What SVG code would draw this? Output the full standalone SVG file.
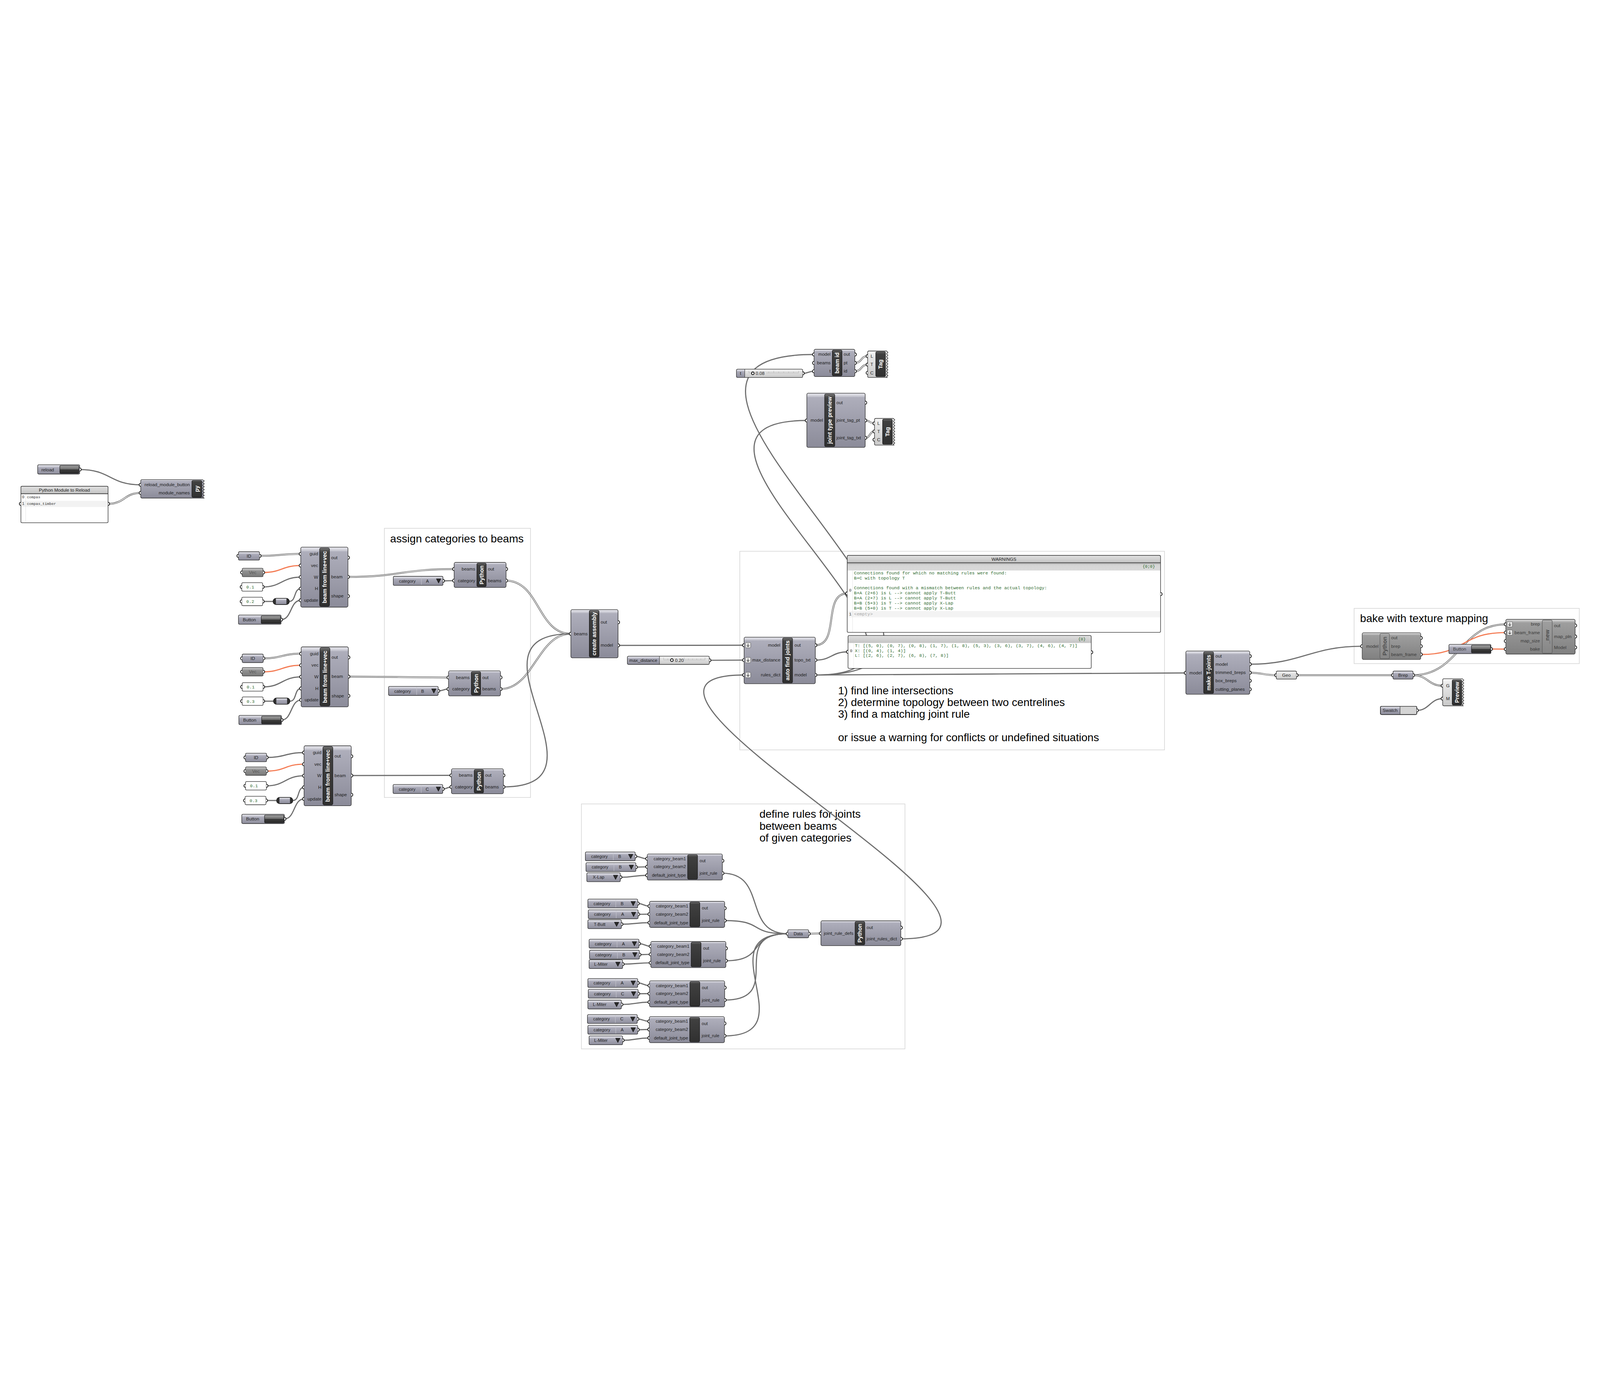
<svg xmlns="http://www.w3.org/2000/svg" width="7730" height="3580" viewBox="0 0 7730 3580">
<style>
svg{width:100vw;height:100vh}
.cb{fill:url(#gB);stroke:#2a2a2a;stroke-width:2.5}
.prm{fill:url(#gP);stroke:#2a2a2a;stroke-width:2.5}
.lt{fill:url(#gL);stroke:#2a2a2a;stroke-width:2.5}
.cg{fill:url(#gG);stroke:#3a3a3a;stroke-width:2.5}
.vec{fill:url(#gV);stroke:#3a3a3a;stroke-width:2.5}
.bar{fill:url(#gK);stroke:#111;stroke-width:2}
.barg{fill:url(#gGb);stroke:#555;stroke-width:2}
.btn{fill:url(#gBt);stroke:#111;stroke-width:2}
.val{fill:#fff;stroke:#2a2a2a;stroke-width:2.5}
.pnone{fill:none;stroke:#2a2a2a;stroke-width:2.5}
.lbl{font-family:"Liberation Sans",Arial,sans-serif;font-size:22px;fill:#1c1c1c}
.lbs{font-family:"Liberation Sans",Arial,sans-serif;font-size:21px;fill:#1c1c1c}
.dim{fill:#3a3a3a}
.bt{font-family:"Liberation Sans",Arial,sans-serif;font-size:27px;font-weight:bold;fill:#fff;text-anchor:middle}
.btg{fill:#4b4b4b}
.ttl{font-family:"Liberation Sans",Arial,sans-serif;font-size:53px;fill:#000}
.mono{font-family:"Liberation Mono","Courier New",monospace;font-size:21.6px;fill:#2f6b2f;white-space:pre}
.num{font-family:"Liberation Mono","Courier New",monospace;font-size:21px;fill:#2f6b2f}
.idx{font-family:"Liberation Mono","Courier New",monospace;font-size:20px;fill:#444}
.m18{font-family:"Liberation Mono","Courier New",monospace;font-size:18px;fill:#333}
.grp{fill:none;stroke:#d6d6d6;stroke-width:3}
.w{fill:none;stroke:#6e6e6e;stroke-width:5.5}
.wd{fill:none;stroke:#6a6a6a;stroke-width:8.5}
.wi{fill:none;stroke:#fff;stroke-width:3}
.wo{fill:none;stroke:#f47b53;stroke-width:5.5}
.c{text-anchor:middle}
.e{text-anchor:end}
.rail{fill:none;stroke:#a8a8a8;stroke-width:1.5}
</style>
<defs>
<linearGradient id="gB" x1="0" y1="0" x2="0" y2="1"><stop offset="0" stop-color="#e6e6ec"/><stop offset="0.05" stop-color="#cfcfd8"/><stop offset="0.08" stop-color="#aeaebb"/><stop offset="1" stop-color="#8b8b99"/></linearGradient>
<linearGradient id="gP" x1="0" y1="0" x2="0" y2="1"><stop offset="0" stop-color="#e4e4ea"/><stop offset="0.22" stop-color="#c8c8d2"/><stop offset="0.3" stop-color="#ababb9"/><stop offset="1" stop-color="#8e8e9c"/></linearGradient>
<linearGradient id="gK" x1="0" y1="0" x2="0" y2="1"><stop offset="0" stop-color="#7c7c7c"/><stop offset="0.04" stop-color="#555"/><stop offset="0.08" stop-color="#404040"/><stop offset="1" stop-color="#303030"/></linearGradient>
<linearGradient id="gG" x1="0" y1="0" x2="0" y2="1"><stop offset="0" stop-color="#e0e0e0"/><stop offset="0.06" stop-color="#bababa"/><stop offset="0.1" stop-color="#9e9e9e"/><stop offset="1" stop-color="#808080"/></linearGradient>
<linearGradient id="gGb" x1="0" y1="0" x2="0" y2="1"><stop offset="0" stop-color="#c4c4c4"/><stop offset="0.06" stop-color="#9e9e9e"/><stop offset="1" stop-color="#868686"/></linearGradient>
<linearGradient id="gL" x1="0" y1="0" x2="0" y2="1"><stop offset="0" stop-color="#f7f7f7"/><stop offset="0.2" stop-color="#e8e8e8"/><stop offset="1" stop-color="#c9c9c9"/></linearGradient>
<linearGradient id="gV" x1="0" y1="0" x2="0" y2="1"><stop offset="0" stop-color="#c6c6c6"/><stop offset="0.25" stop-color="#a9a9a9"/><stop offset="0.3" stop-color="#939393"/><stop offset="1" stop-color="#7a7a7a"/></linearGradient>
<linearGradient id="gBt" x1="0" y1="0" x2="0" y2="1"><stop offset="0" stop-color="#a4a4a4"/><stop offset="0.47" stop-color="#6c6c6c"/><stop offset="0.5" stop-color="#3c3c3c"/><stop offset="1" stop-color="#2a2a2a"/></linearGradient>
<linearGradient id="gH" x1="0" y1="0" x2="0" y2="1"><stop offset="0" stop-color="#e0e0e0"/><stop offset="1" stop-color="#c4c4c4"/></linearGradient>
<linearGradient id="gS" x1="0" y1="0" x2="0" y2="1"><stop offset="0" stop-color="#7a7a7a"/><stop offset="0.15" stop-color="#c4c4c4"/><stop offset="0.35" stop-color="#d6d6d6"/><stop offset="1" stop-color="#d9d9d9"/></linearGradient>
<path id="pi" d="M0,-7.5A7.5,7.5 0 0 0 0,7.5" fill="#fff" stroke="#111" stroke-width="3.5"/>
<path id="po" d="M0,-7.5A7.5,7.5 0 0 1 0,7.5" fill="#fff" stroke="#111" stroke-width="3.5"/>
<path id="tri" d="M-11,-10H11L0,11Z" fill="#2a2a2a" stroke="#000" stroke-width="1.5"/>
<g id="arr"><rect x="0" y="-13" width="26" height="26" rx="4" fill="#e6e6e6" stroke="#444" stroke-width="1.5"/><path d="M13,-8V7M7,1L13,7L19,1" fill="none" stroke="#555" stroke-width="3"/></g>
</defs>
<rect width="7730" height="3580" fill="#fff"/>

<g id="groups">
<g id="g-assign"><rect class="grp" x="1857" y="965" width="706" height="1301"/><text class="ttl" x="1885" y="1034">assign categories to beams</text></g>
<g id="g-afj"><rect class="grp" x="3574" y="1076" width="2052" height="960"/>
<text class="ttl" x="4049" y="1768">1) find line intersections</text>
<text class="ttl" x="4049" y="1824">2) determine topology between two centrelines</text>
<text class="ttl" x="4049" y="1880">3) find a matching joint rule</text>
<text class="ttl" x="4049" y="1994">or issue a warning for conflicts or undefined situations</text></g>
<g id="g-rules"><rect class="grp" x="2809" y="2297" width="1563" height="1184"/>
<text class="ttl" x="3669" y="2364">define rules for joints</text>
<text class="ttl" x="3669" y="2422">between beams</text>
<text class="ttl" x="3669" y="2478">of given categories</text></g>
<g id="g-bake"><rect class="grp" x="6542" y="1352" width="1088" height="267"/><text class="ttl" x="6571" y="1418">bake with texture mapping</text></g>
</g>

<g id="connectors">
<path class="w" d="M385,681 C535,681 530,755 680,755"/>
<path class="wd" d="M522,847 C602,847 600,794 680,794"/><path class="wi" d="M522,847 C602,847 600,794 680,794"/>
<path class="wd" d="M1254,1098.5 C1354,1098.5 1353,1089 1453,1089"/><path class="wi" d="M1254,1098.5 C1354,1098.5 1353,1089 1453,1089"/>
<path class="wo" d="M1271,1178.5 C1362,1178.5 1362,1145 1453,1145"/>
<path class="w" d="M1269,1248.5 C1361,1248.5 1361,1201 1453,1201"/>
<path class="w" d="M1269,1318.5 L1319,1318.5"/>
<path class="w" d="M1397,1318.5 C1432,1318.5 1418,1257 1453,1257"/>
<path class="w" d="M1358,1406.5 C1410,1406.5 1401,1313 1453,1313"/>
<path class="wd" d="M1272,1593.5 C1363,1593.5 1364,1571 1455,1571"/><path class="wi" d="M1272,1593.5 C1363,1593.5 1364,1571 1455,1571"/>
<path class="wo" d="M1271,1658.5 C1363,1658.5 1363,1627 1455,1627"/>
<path class="w" d="M1271,1731.5 C1363,1731.5 1363,1683 1455,1683"/>
<path class="w" d="M1271,1800.5 L1321,1800.5"/>
<path class="w" d="M1401,1800.5 C1435,1800.5 1421,1739 1455,1739"/>
<path class="w" d="M1360,1891.5 C1412,1891.5 1403,1795 1455,1795"/>
<path class="w" d="M1288,2072.5 C1378,2072.5 1379,2049 1469,2049"/>
<path class="wo" d="M1287,2138.5 C1378,2138.5 1378,2105 1469,2105"/>
<path class="w" d="M1287,2209.5 C1378,2209.5 1378,2161 1469,2161"/>
<path class="w" d="M1285,2280.5 L1336,2280.5"/>
<path class="w" d="M1415,2280.5 C1449,2280.5 1435,2217 1469,2217"/>
<path class="w" d="M1374,2369.5 C1426,2369.5 1417,2273 1469,2273"/>
<path class="wd" d="M1681,1200 C1931,1200 1944,1162 2194,1162"/><path class="wi" d="M1681,1200 C1931,1200 1944,1162 2194,1162"/>
<path class="wd" d="M1683,1682 C1883,1682 1967,1686 2167,1686"/><path class="wi" d="M1683,1682 C1883,1682 1967,1686 2167,1686"/>
<path class="w" d="M1697,2160 C1897,2160 1981,2159 2181,2159"/>
<path class="w" d="M2140,1219 L2194,1218"/>
<path class="w" d="M2117,1751 C2142,1751 2142,1742 2167,1742"/>
<path class="w" d="M2139,2225 C2160,2225 2160,2215 2181,2215"/>
<path class="wd" d="M2445,1218 C2605,1218 2598,1475 2758,1475"/><path class="wi" d="M2445,1218 C2605,1218 2598,1475 2758,1475"/>
<path class="wd" d="M2418,1742 C2578,1742 2598,1475 2758,1475"/><path class="wi" d="M2418,1742 C2578,1742 2598,1475 2758,1475"/>
<path class="w" d="M2432,2215 C2992,2215 2198,1475 2758,1475"/>
<path class="w" d="M2986,1531 L3595,1530"/>
<path class="w" d="M3427,1603 L3595,1602"/>
<path class="w" d="M4352,2949 C5252,2949 2695,1674 3595,1674"/>
<path class="wd" d="M3939,1530 C4059,1530 3973,1280 4093,1280"/><path class="wi" d="M3939,1530 C4059,1530 3973,1280 4093,1280"/>
<path class="w" d="M3939,1602 C4019,1602 4017,1562 4097,1562"/>
<path class="w" d="M3939,1674 C4839,1674 4829,1664 5729,1664"/>
<path class="w" d="M3939,1674 C5089,1674 2783,125 3933,125"/>
<path class="w" d="M3939,1674 C4839,1674 2998,444 3898,444"/>
<path class="w" d="M3878,216 C3908,216 3903,206 3933,206"/>
<path class="wd" d="M4130,166 C4165,166 4157,133 4192,133"/><path class="wi" d="M4130,166 C4165,166 4157,133 4192,133"/>
<path class="wd" d="M4130,206 C4165,206 4157,174 4192,174"/><path class="wi" d="M4130,206 C4165,206 4157,174 4192,174"/>
<path class="wd" d="M4180,444 C4205,444 4200,458 4225,458"/><path class="wi" d="M4180,444 C4205,444 4200,458 4225,458"/>
<path class="wd" d="M4180,528 C4205,528 4200,497 4225,497"/><path class="wi" d="M4180,528 C4205,528 4200,497 4225,497"/>
<path class="w" d="M3069,2550.5 C3098,2550.5 3098,2562 3127,2562"/>
<path class="w" d="M3072,2602.5 C3100,2602.5 3099,2601 3127,2601"/>
<path class="w" d="M2997,2651.5 C3062,2651.5 3062,2642 3127,2642"/>
<path class="w" d="M3081,2778.5 C3110,2778.5 3109,2791 3138,2791"/>
<path class="w" d="M3083,2830.5 L3138,2830"/>
<path class="w" d="M3002,2878.5 C3070,2878.5 3070,2871 3138,2871"/>
<path class="w" d="M3087,2972.5 C3116,2972.5 3115,2985 3144,2985"/>
<path class="w" d="M3089,3025.5 L3144,3024"/>
<path class="w" d="M3008,3071.5 C3076,3071.5 3076,3065 3144,3065"/>
<path class="w" d="M3081,3162.5 C3110,3162.5 3109,3175 3138,3175"/>
<path class="w" d="M3083,3214.5 L3138,3214"/>
<path class="w" d="M3002,3266.5 C3070,3266.5 3070,3255 3138,3255"/>
<path class="w" d="M3079,3336.5 C3108,3336.5 3108,3348 3137,3348"/>
<path class="w" d="M3081,3388.5 L3137,3387"/>
<path class="w" d="M3008,3439.5 C3073,3439.5 3072,3428 3137,3428"/>
<path class="w" d="M3490,2632 C3710,2632 3586,2924.5 3806,2924.5"/>
<path class="w" d="M3501,2861 C3701,2861 3606,2924.5 3806,2924.5"/>
<path class="w" d="M3507,3055 C3707,3055 3606,2924.5 3806,2924.5"/>
<path class="w" d="M3501,3245 C3801,3245 3506,2924.5 3806,2924.5"/>
<path class="w" d="M3500,3418 C3900,3418 3406,2924.5 3806,2924.5"/>
<path class="wd" d="M3907,2924.5 L3966,2923"/><path class="wi" d="M3907,2924.5 L3966,2923"/>
<path class="w" d="M6038,1622 C6288,1622 6331,1535 6581,1535"/>
<path class="wd" d="M6038,1663 C6098,1663 6106,1675 6166,1675"/><path class="wi" d="M6038,1663 C6098,1663 6106,1675 6166,1675"/>
<path class="wd" d="M6264,1675 L6730,1675"/><path class="wi" d="M6264,1675 L6730,1675"/>
<path class="wd" d="M6827,1675 C7047,1675 7055,1429 7275,1429"/><path class="wi" d="M6827,1675 C7047,1675 7055,1429 7275,1429"/>
<path class="wd" d="M6827,1675 C6897,1675 6900,1726 6970,1726"/><path class="wi" d="M6827,1675 C6897,1675 6900,1726 6970,1726"/>
<path class="wo" d="M6864,1575 C7084,1575 7055,1469 7275,1469"/>
<path class="wo" d="M7203,1548.5 L7275,1549"/>
<path class="w" d="M6845,1845 C6905,1845 6910,1788 6970,1788"/>
</g>

<g id="n-reload">
<rect x="182" y="658" width="203" height="45" rx="6" class="prm"/>
<text class="lbl" x="200" y="689">reload</text>
<rect x="289" y="662" width="92" height="37" rx="4" class="btn"/>
<use href="#po" x="385" y="681"/>
</g>

<g id="n-modpanel">
<rect x="101" y="762" width="421" height="176" rx="5" fill="#fff"/>
<path d="M101,798 V767 Q101,762 106,762 H517 Q522,762 522,767 V798 Z" fill="url(#gH)"/>
<rect x="103" y="832" width="417" height="30" fill="#f2f2f2"/>
<line x1="124" y1="800" x2="124" y2="936" stroke="#dcdcdc" stroke-width="1.5"/>
<line x1="101" y1="798" x2="522" y2="798" stroke="#333" stroke-width="3"/>
<text class="lbl c" x="311" y="787">Python Module to Reload</text>
<text class="idx" x="106" y="820">0</text><text class="m18" x="130" y="820">compas</text>
<text class="idx" x="106" y="853">1</text><text class="m18" x="130" y="853">compas_timber</text>
<rect x="101" y="762" width="421" height="176" rx="5" class="pnone"/>
<use href="#pi" x="101" y="847"/><use href="#po" x="522" y="847"/>
</g>

<g id="n-py">
<path class="cb" d="M686,730 H978 L987,736 L979,743 L987,750 L979,757 L987,764 L979,771 L987,778 L979,785 L987,792 L979,799 L987,806 L979,813 L986,819 H686 Q680,819 680,813 V736 Q680,730 686,730 Z"/>
<rect x="927" y="734" width="48" height="81" rx="6" class="bar"/>
<text class="bt" transform="translate(960,774) rotate(-90)">py</text>
<text class="lbl e" x="917" y="762">reload_module_button</text>
<text class="lbl e" x="917" y="801">module_names</text>
<use href="#pi" x="680" y="755"/><use href="#pi" x="680" y="794"/>
</g>

<g id="n-id1"><rect x="1152" y="1078" width="102" height="41" rx="6" class="prm"/><text class="lbl c" x="1203" y="1106">ID</text><use href="#pi" x="1152" y="1098.5"/><use href="#po" x="1254" y="1098.5"/></g>
<g id="n-vec1"><rect x="1170" y="1158" width="101" height="41" rx="6" class="vec"/><text class="lbl c" x="1220.5" y="1186" style="fill:#555">Vec</text><use href="#pi" x="1170" y="1178.5"/><use href="#po" x="1271" y="1178.5"/></g>
<g id="n-w1"><rect x="1168" y="1228" width="101" height="41" rx="6" class="val"/><text class="num" x="1190" y="1256">0.1</text><use href="#pi" x="1168" y="1248.5"/><use href="#po" x="1269" y="1248.5"/></g>
<g id="n-h1"><rect x="1168" y="1298" width="101" height="41" rx="6" class="val"/><text class="num" x="1190" y="1326">0.2</text><use href="#pi" x="1168" y="1318.5"/><use href="#po" x="1269" y="1318.5"/></g>
<g id="n-relay1"><rect x="1319" y="1303" width="79" height="31" rx="15" fill="#2e2e2e" stroke="#111" stroke-width="2"/><rect x="1333" y="1305" width="51" height="27" fill="url(#gP)"/></g>
<g id="n-btn1"><rect x="1152" y="1384" width="206" height="45" rx="6" class="prm"/><text class="lbl" x="1173" y="1414">Button</text><rect x="1262" y="1388" width="93" height="37" rx="4" class="btn"/><use href="#po" x="1358" y="1406.5"/></g>

<g id="n-beam1">
<rect x="1453" y="1056" width="228" height="290" rx="7" class="cb"/>
<rect x="1544" y="1060" width="48" height="282" rx="7" class="bar"/>
<text class="bt" transform="translate(1577.5,1201) rotate(-90)">beam from line+vec</text>
<text class="lbl e" x="1537" y="1096">guid</text><text class="lbl e" x="1537" y="1152">vec</text><text class="lbl e" x="1537" y="1208">W</text><text class="lbl e" x="1537" y="1264">H</text><text class="lbl e" x="1537" y="1320">update</text>
<text class="lbl" x="1600" y="1114">out</text><text class="lbl" x="1600" y="1207">beam</text><text class="lbl" x="1600" y="1300">shape</text>
<use href="#pi" x="1453" y="1089"/><use href="#pi" x="1453" y="1145"/><use href="#pi" x="1453" y="1201"/><use href="#pi" x="1453" y="1257"/><use href="#pi" x="1453" y="1313"/>
<use href="#po" x="1681" y="1107"/><use href="#po" x="1681" y="1200"/><use href="#po" x="1681" y="1293"/>
</g>

<g id="n-id2"><rect x="1170" y="1573" width="102" height="41" rx="6" class="prm"/><text class="lbl c" x="1221" y="1601">ID</text><use href="#pi" x="1170" y="1593.5"/><use href="#po" x="1272" y="1593.5"/></g>
<g id="n-vec2"><rect x="1170" y="1638" width="101" height="41" rx="6" class="vec"/><text class="lbl c" x="1220.5" y="1666" style="fill:#555">Vec</text><use href="#pi" x="1170" y="1658.5"/><use href="#po" x="1271" y="1658.5"/></g>
<g id="n-w2"><rect x="1170" y="1711" width="101" height="41" rx="6" class="val"/><text class="num" x="1192" y="1739">0.1</text><use href="#pi" x="1170" y="1731.5"/><use href="#po" x="1271" y="1731.5"/></g>
<g id="n-h2"><rect x="1170" y="1780" width="101" height="41" rx="6" class="val"/><text class="num" x="1192" y="1808">0.3</text><use href="#pi" x="1170" y="1800.5"/><use href="#po" x="1271" y="1800.5"/></g>
<g id="n-relay2"><rect x="1321" y="1785" width="80" height="31" rx="15" fill="#2e2e2e" stroke="#111" stroke-width="2"/><rect x="1335" y="1787" width="52" height="27" fill="url(#gP)"/></g>
<g id="n-btn2"><rect x="1154" y="1869" width="206" height="45" rx="6" class="prm"/><text class="lbl" x="1175" y="1899">Button</text><rect x="1264" y="1873" width="93" height="37" rx="4" class="btn"/><use href="#po" x="1360" y="1891.5"/></g>

<g id="n-beam2">
<rect x="1455" y="1538" width="228" height="290" rx="7" class="cb"/>
<rect x="1546" y="1542" width="48" height="282" rx="7" class="bar"/>
<text class="bt" transform="translate(1579.5,1683) rotate(-90)">beam from line+vec</text>
<text class="lbl e" x="1539" y="1578">guid</text><text class="lbl e" x="1539" y="1634">vec</text><text class="lbl e" x="1539" y="1690">W</text><text class="lbl e" x="1539" y="1746">H</text><text class="lbl e" x="1539" y="1802">update</text>
<text class="lbl" x="1602" y="1596">out</text><text class="lbl" x="1602" y="1689">beam</text><text class="lbl" x="1602" y="1782">shape</text>
<use href="#pi" x="1455" y="1571"/><use href="#pi" x="1455" y="1627"/><use href="#pi" x="1455" y="1683"/><use href="#pi" x="1455" y="1739"/><use href="#pi" x="1455" y="1795"/>
<use href="#po" x="1683" y="1589"/><use href="#po" x="1683" y="1682"/><use href="#po" x="1683" y="1775"/>
</g>

<g id="n-id3"><rect x="1186" y="2052" width="102" height="41" rx="6" class="prm"/><text class="lbl c" x="1237" y="2080">ID</text><use href="#pi" x="1186" y="2072.5"/><use href="#po" x="1288" y="2072.5"/></g>
<g id="n-vec3"><rect x="1186" y="2118" width="101" height="41" rx="6" class="vec"/><text class="lbl c" x="1236.5" y="2146" style="fill:#555">Vec</text><use href="#pi" x="1186" y="2138.5"/><use href="#po" x="1287" y="2138.5"/></g>
<g id="n-w3"><rect x="1186" y="2189" width="101" height="41" rx="6" class="val"/><text class="num" x="1208" y="2217">0.1</text><use href="#pi" x="1186" y="2209.5"/><use href="#po" x="1287" y="2209.5"/></g>
<g id="n-h3"><rect x="1184" y="2260" width="101" height="41" rx="6" class="val"/><text class="num" x="1206" y="2288">0.3</text><use href="#pi" x="1184" y="2280.5"/><use href="#po" x="1285" y="2280.5"/></g>
<g id="n-relay3"><rect x="1336" y="2265" width="79" height="31" rx="15" fill="#2e2e2e" stroke="#111" stroke-width="2"/><rect x="1350" y="2267" width="51" height="27" fill="url(#gP)"/></g>
<g id="n-btn3"><rect x="1168" y="2347" width="206" height="45" rx="6" class="prm"/><text class="lbl" x="1189" y="2377">Button</text><rect x="1278" y="2351" width="93" height="37" rx="4" class="btn"/><use href="#po" x="1374" y="2369.5"/></g>

<g id="n-beam3">
<rect x="1469" y="2016" width="228" height="290" rx="7" class="cb"/>
<rect x="1560" y="2020" width="48" height="282" rx="7" class="bar"/>
<text class="bt" transform="translate(1593.5,2161) rotate(-90)">beam from line+vec</text>
<text class="lbl e" x="1553" y="2056">guid</text><text class="lbl e" x="1553" y="2112">vec</text><text class="lbl e" x="1553" y="2168">W</text><text class="lbl e" x="1553" y="2224">H</text><text class="lbl e" x="1553" y="2280">update</text>
<text class="lbl" x="1616" y="2074">out</text><text class="lbl" x="1616" y="2167">beam</text><text class="lbl" x="1616" y="2260">shape</text>
<use href="#pi" x="1469" y="2049"/><use href="#pi" x="1469" y="2105"/><use href="#pi" x="1469" y="2161"/><use href="#pi" x="1469" y="2217"/><use href="#pi" x="1469" y="2273"/>
<use href="#po" x="1697" y="2067"/><use href="#po" x="1697" y="2160"/><use href="#po" x="1697" y="2253"/>
</g>

<g id="n-catA">
<rect x="1900" y="1197" width="240" height="44" rx="6" class="prm"/>
<line x1="2036" y1="1200" x2="2036" y2="1238" stroke="#c6c6ce" stroke-width="2"/>
<text class="lbs c" x="1968" y="1227">category</text><text class="lbs c" x="2065" y="1227">A</text>
<use href="#tri" x="2119" y="1219"/><use href="#po" x="2140" y="1219"/>
</g>
<g id="n-pyA">
<rect x="2194" y="1130" width="251" height="121" rx="7" class="cb"/>
<rect x="2304" y="1134" width="45" height="113" rx="6" class="bar"/>
<text class="bt" transform="translate(2336,1190.5) rotate(-90)">Python</text>
<text class="lbl e" x="2296" y="1169">beams</text><text class="lbl e" x="2296" y="1225">category</text>
<text class="lbl" x="2357" y="1169">out</text><text class="lbl" x="2357" y="1225">beams</text>
<use href="#pi" x="2194" y="1162"/><use href="#pi" x="2194" y="1218"/><use href="#po" x="2445" y="1162"/><use href="#po" x="2445" y="1218"/>
</g>

<g id="n-catB">
<rect x="1877" y="1729" width="240" height="44" rx="6" class="prm"/>
<line x1="2013" y1="1732" x2="2013" y2="1770" stroke="#c6c6ce" stroke-width="2"/>
<text class="lbs c" x="1945" y="1759">category</text><text class="lbs c" x="2042" y="1759">B</text>
<use href="#tri" x="2096" y="1751"/><use href="#po" x="2117" y="1751"/>
</g>
<g id="n-pyB">
<rect x="2167" y="1654" width="251" height="121" rx="7" class="cb"/>
<rect x="2277" y="1658" width="45" height="113" rx="6" class="bar"/>
<text class="bt" transform="translate(2309,1714.5) rotate(-90)">Python</text>
<text class="lbl e" x="2269" y="1693">beams</text><text class="lbl e" x="2269" y="1749">category</text>
<text class="lbl" x="2330" y="1693">out</text><text class="lbl" x="2330" y="1749">beams</text>
<use href="#pi" x="2167" y="1686"/><use href="#pi" x="2167" y="1742"/><use href="#po" x="2418" y="1686"/><use href="#po" x="2418" y="1742"/>
</g>

<g id="n-catC">
<rect x="1899" y="2203" width="240" height="44" rx="6" class="prm"/>
<line x1="2035" y1="2206" x2="2035" y2="2244" stroke="#c6c6ce" stroke-width="2"/>
<text class="lbs c" x="1967" y="2233">category</text><text class="lbs c" x="2064" y="2233">C</text>
<use href="#tri" x="2118" y="2225"/><use href="#po" x="2139" y="2225"/>
</g>
<g id="n-pyC">
<rect x="2181" y="2127" width="251" height="121" rx="7" class="cb"/>
<rect x="2291" y="2131" width="45" height="113" rx="6" class="bar"/>
<text class="bt" transform="translate(2323,2187.5) rotate(-90)">Python</text>
<text class="lbl e" x="2283" y="2166">beams</text><text class="lbl e" x="2283" y="2222">category</text>
<text class="lbl" x="2344" y="2166">out</text><text class="lbl" x="2344" y="2222">beams</text>
<use href="#pi" x="2181" y="2159"/><use href="#pi" x="2181" y="2215"/><use href="#po" x="2432" y="2159"/><use href="#po" x="2432" y="2215"/>
</g>

<g id="n-create">
<rect x="2758" y="1358" width="228" height="233" rx="7" class="cb"/>
<rect x="2847" y="1362" width="47" height="225" rx="6" class="bar"/>
<text class="bt" transform="translate(2880,1474.5) rotate(-90)">create assembly</text>
<text class="lbl e" x="2839" y="1482">beams</text>
<text class="lbl" x="2902" y="1426">out</text><text class="lbl" x="2902" y="1538">model</text>
<use href="#pi" x="2758" y="1475"/><use href="#po" x="2986" y="1419"/><use href="#po" x="2986" y="1531"/>
</g>

<g id="n-maxdist">
<rect x="3031" y="1583" width="396" height="40" rx="6" fill="url(#gL)"/>
<path d="M3037,1583 H3186 V1623 H3037 Q3031,1623 3031,1617 V1589 Q3031,1583 3037,1583 Z" fill="url(#gP)"/>
<line x1="3186" y1="1583" x2="3186" y2="1623" stroke="#333" stroke-width="2"/>
<path class="rail" d="M3206,1601 H3240 M3306,1601 H3406 M3206,1590 V1601 M3226,1595 V1601 M3306,1590 V1601 M3326,1595 V1601 M3346,1595 V1601 M3366,1595 V1601 M3386,1595 V1601 M3406,1590 V1601"/>
<rect x="3031" y="1583" width="396" height="40" rx="6" class="pnone"/>
<text class="lbl c" x="3108" y="1611">max_distance</text>
<circle cx="3246" cy="1602" r="6.5" fill="#fff" stroke="#000" stroke-width="3.5"/>
<text class="lbl" x="3261" y="1611">0.20</text>
<use href="#po" x="3427" y="1603"/>
</g>

<g id="n-tslider">
<rect x="3558" y="196" width="320" height="40" rx="6" fill="url(#gL)"/>
<path d="M3564,196 H3598 V236 H3564 Q3558,236 3558,230 V202 Q3558,196 3564,196 Z" fill="url(#gP)"/>
<line x1="3598" y1="196" x2="3598" y2="236" stroke="#333" stroke-width="2"/>
<path class="rail" d="M3617,214 H3626 M3702,214 H3858 M3618,204 V214 M3714,208 V214 M3738,204 V214 M3762,208 V214 M3786,208 V214 M3810,208 V214 M3834,208 V214 M3858,204 V214"/>
<rect x="3558" y="196" width="320" height="40" rx="6" class="pnone"/>
<text class="lbl c" x="3578" y="224">t</text>
<circle cx="3637" cy="216" r="6.5" fill="#fff" stroke="#000" stroke-width="3.5"/>
<text class="lbl" x="3651" y="224">0.08</text>
<use href="#po" x="3878" y="216"/>
</g>

<g id="n-beamid">
<rect x="3933" y="100" width="197" height="132" rx="7" class="cb"/>
<rect x="4021" y="104" width="47" height="124" rx="6" class="bar"/>
<text class="bt" transform="translate(4054,166) rotate(-90)">beam id</text>
<text class="lbl e" x="4013" y="132">model</text><text class="lbl e" x="4013" y="173">beams</text><text class="lbl e" x="4013" y="213">t</text>
<text class="lbl" x="4076" y="132">out</text><text class="lbl" x="4076" y="173">pt</text><text class="lbl" x="4076" y="213">id</text>
<use href="#pi" x="3933" y="125"/><use href="#pi" x="3933" y="166"/><use href="#pi" x="3933" y="206"/>
<use href="#po" x="4130" y="125"/><use href="#po" x="4130" y="166"/><use href="#po" x="4130" y="206"/>
</g>

<g id="n-tag1">
<path class="lt" d="M4198,108 H4283 L4290,115 L4283,122 L4290,129 L4283,136 L4290,143 L4283,150 L4290,157 L4283,164 L4290,171 L4283,178 L4290,185 L4283,192 L4290,199 L4283,206 L4290,213 L4283,220 L4290,227 L4283,234 L4286,236 H4198 Q4192,236 4192,230 V114 Q4192,108 4198,108 Z"/>
<rect x="4231" y="112" width="47" height="120" rx="6" class="bar"/>
<text class="bt" transform="translate(4264,172) rotate(-90)">Tag</text>
<text class="lbl c" x="4212" y="140">L</text><text class="lbl c" x="4212" y="181">T</text><text class="lbl c" x="4212" y="221">C</text>
<use href="#pi" x="4192" y="133"/><use href="#pi" x="4192" y="174"/><use href="#pi" x="4192" y="214"/>
</g>

<g id="n-jtp">
<rect x="3898" y="312" width="282" height="262" rx="7" class="cb"/>
<rect x="3984" y="316" width="49" height="254" rx="6" class="bar"/>
<text class="bt" transform="translate(4018,443) rotate(-90)">joint type preview</text>
<text class="lbl e" x="3976" y="451">model</text>
<text class="lbl" x="4041" y="365">out</text><text class="lbl" x="4041" y="451">joint_tag_pt</text><text class="lbl" x="4041" y="535">joint_tag_txt</text>
<use href="#pi" x="3898" y="444"/><use href="#po" x="4180" y="358"/><use href="#po" x="4180" y="444"/><use href="#po" x="4180" y="528"/>
</g>

<g id="n-tag2">
<path class="lt" d="M4231,434 H4316 L4323,441 L4316,448 L4323,455 L4316,462 L4323,469 L4316,476 L4323,483 L4316,490 L4323,497 L4316,504 L4323,511 L4316,518 L4323,525 L4316,532 L4323,539 L4316,546 L4323,553 L4316,560 L4319,563 H4231 Q4225,563 4225,557 V440 Q4225,434 4231,434 Z"/>
<rect x="4264" y="438" width="47" height="121" rx="6" class="bar"/>
<text class="bt" transform="translate(4297,498.5) rotate(-90)">Tag</text>
<text class="lbl c" x="4245" y="465">L</text><text class="lbl c" x="4245" y="504">T</text><text class="lbl c" x="4245" y="544">C</text>
<use href="#pi" x="4225" y="458"/><use href="#pi" x="4225" y="497"/><use href="#pi" x="4225" y="537"/>
</g>

<g id="n-afj">
<rect x="3595" y="1491" width="344" height="225" rx="7" class="cb"/>
<rect x="3781" y="1495" width="48" height="217" rx="6" class="bar"/>
<text class="bt" transform="translate(3814.5,1603.5) rotate(-90)">auto find joints</text>
<use href="#arr" x="3601" y="1530"/><use href="#arr" x="3601" y="1602"/><use href="#arr" x="3601" y="1674"/>
<text class="lbl e" x="3770" y="1537">model</text><text class="lbl e" x="3770" y="1609">max_distance</text><text class="lbl e" x="3770" y="1681">rules_dict</text>
<text class="lbl" x="3838" y="1537">out</text><text class="lbl" x="3838" y="1609">topo_txt</text><text class="lbl" x="3838" y="1681">model</text>
<use href="#pi" x="3595" y="1530"/><use href="#pi" x="3595" y="1602"/><use href="#pi" x="3595" y="1674"/>
<use href="#po" x="3939" y="1530"/><use href="#po" x="3939" y="1602"/><use href="#po" x="3939" y="1674"/>
</g>

<g id="n-warnings">
<rect x="4093" y="1096" width="1514" height="372" rx="6" fill="#fff"/>
<path d="M4093,1131 V1102 Q4093,1096 4099,1096 H5601 Q5607,1096 5607,1102 V1131 Z" fill="url(#gH)"/>
<rect x="4094" y="1131" width="1512" height="38" fill="url(#gS)"/>
<line x1="4093" y1="1131" x2="5607" y2="1131" stroke="#333" stroke-width="2.5"/>
<rect x="4094" y="1365" width="1512" height="30" fill="#f3f3f3"/>
<line x1="4119" y1="1169" x2="4119" y2="1466" stroke="#e0e0e0" stroke-width="1.5"/>
<text class="lbl c" x="4850" y="1122">WARNINGS</text>
<text class="idx e" x="5580" y="1156" style="fill:#2f6b2f">{0;0}</text>
<text class="idx" x="4102" y="1271">0</text>
<text class="mono" x="4126" y="1188">Connections found for which no matching rules were found:</text>
<text class="mono" x="4126" y="1212">B+C with topology T</text>
<text class="mono" x="4126" y="1260">Connections found with a mismatch between rules and the actual topology:</text>
<text class="mono" x="4126" y="1284">B+A (2+6) is L --&gt; cannot apply T-Butt</text>
<text class="mono" x="4126" y="1309">B+A (2+7) is L --&gt; cannot apply T-Butt</text>
<text class="mono" x="4126" y="1333">B+B (5+3) is T --&gt; cannot apply X-Lap</text>
<text class="mono" x="4126" y="1357">B+B (5+0) is T --&gt; cannot apply X-Lap</text>
<text class="idx" x="4102" y="1386">1</text>
<text class="mono" x="4126" y="1386" style="fill:#a8a8a8">&lt;empty&gt;</text>
<rect x="4093" y="1096" width="1514" height="372" rx="6" class="pnone"/>
<use href="#pi" x="4093" y="1280"/><use href="#po" x="5607" y="1283"/>
</g>

<g id="n-topo">
<rect x="4097" y="1483" width="1175" height="159" rx="6" fill="#fff"/>
<path d="M4097,1519 V1489 Q4097,1483 4103,1483 H5266 Q5272,1483 5272,1489 V1519 Z" fill="url(#gH)"/>
<line x1="4124" y1="1519" x2="4124" y2="1640" stroke="#e6e6e6" stroke-width="1.5"/>
<text class="idx e" x="5245" y="1506" style="fill:#2f6b2f">{0}</text>
<text class="idx" x="4106" y="1563">0</text>
<text class="mono" x="4130" y="1539">T: [(5, 0), (0, 7), (0, 8), (1, 7), (1, 8), (5, 3), (3, 6), (3, 7), (4, 6), (4, 7)]</text>
<text class="mono" x="4130" y="1563">X: [(0, 4), (1, 4)]</text>
<text class="mono" x="4130" y="1587">L: [(2, 6), (2, 7), (6, 8), (7, 8)]</text>
<rect x="4097" y="1483" width="1175" height="159" rx="6" class="pnone"/>
<use href="#pi" x="4097" y="1562"/><use href="#po" x="5272" y="1564"/>
</g>

<g id="n-r1-c1"><rect x="2828" y="2529" width="241" height="43" rx="6" class="prm"/><line x1="2963" y1="2532" x2="2963" y2="2569" stroke="#c6c6ce" stroke-width="2"/><text class="lbs c" x="2896" y="2558">category</text><text class="lbs c" x="2994" y="2558">B</text><use href="#tri" x="3047" y="2550.5"/><use href="#po" x="3069" y="2550.5"/></g>
<g id="n-r1-c2"><rect x="2831" y="2581" width="241" height="43" rx="6" class="prm"/><line x1="2966" y1="2584" x2="2966" y2="2621" stroke="#c6c6ce" stroke-width="2"/><text class="lbs c" x="2899" y="2610">category</text><text class="lbs c" x="2997" y="2610">B</text><use href="#tri" x="3050" y="2602.5"/><use href="#po" x="3072" y="2602.5"/></g>
<g id="n-r1-t"><rect x="2835" y="2630" width="162" height="43" rx="6" class="prm"/><text class="lbs c" x="2892" y="2659">X-Lap</text><use href="#tri" x="2974" y="2651.5"/><use href="#po" x="2997" y="2651.5"/></g>
<g id="n-rule1">
<rect x="3127" y="2539" width="363" height="126" rx="7" class="cb"/><rect x="3322" y="2543" width="48" height="118" rx="6" class="bar"/>
<text class="lbs e" x="3314" y="2569">category_beam1</text><text class="lbs e" x="3314" y="2608">category_beam2</text><text class="lbs e" x="3314" y="2649">default_joint_type</text>
<text class="lbs" x="3380" y="2579">out</text><text class="lbs" x="3380" y="2639">joint_rule</text>
<use href="#pi" x="3127" y="2562"/><use href="#pi" x="3127" y="2601"/><use href="#pi" x="3127" y="2642"/><use href="#po" x="3490" y="2572"/><use href="#po" x="3490" y="2632"/>
</g>

<g id="n-r2-c1"><rect x="2840" y="2757" width="241" height="43" rx="6" class="prm"/><line x1="2975" y1="2760" x2="2975" y2="2797" stroke="#c6c6ce" stroke-width="2"/><text class="lbs c" x="2908" y="2786">category</text><text class="lbs c" x="3006" y="2786">B</text><use href="#tri" x="3059" y="2778.5"/><use href="#po" x="3081" y="2778.5"/></g>
<g id="n-r2-c2"><rect x="2842" y="2809" width="241" height="43" rx="6" class="prm"/><line x1="2977" y1="2812" x2="2977" y2="2849" stroke="#c6c6ce" stroke-width="2"/><text class="lbs c" x="2910" y="2838">category</text><text class="lbs c" x="3008" y="2838">A</text><use href="#tri" x="3061" y="2830.5"/><use href="#po" x="3083" y="2830.5"/></g>
<g id="n-r2-t"><rect x="2840" y="2857" width="162" height="43" rx="6" class="prm"/><text class="lbs c" x="2897" y="2886">T-Butt</text><use href="#tri" x="2979" y="2878.5"/><use href="#po" x="3002" y="2878.5"/></g>
<g id="n-rule2">
<rect x="3138" y="2768" width="363" height="126" rx="7" class="cb"/><rect x="3333" y="2772" width="48" height="118" rx="6" class="bar"/>
<text class="lbs e" x="3325" y="2798">category_beam1</text><text class="lbs e" x="3325" y="2837">category_beam2</text><text class="lbs e" x="3325" y="2878">default_joint_type</text>
<text class="lbs" x="3391" y="2808">out</text><text class="lbs" x="3391" y="2868">joint_rule</text>
<use href="#pi" x="3138" y="2791"/><use href="#pi" x="3138" y="2830"/><use href="#pi" x="3138" y="2871"/><use href="#po" x="3501" y="2801"/><use href="#po" x="3501" y="2861"/>
</g>

<g id="n-r3-c1"><rect x="2846" y="2951" width="241" height="43" rx="6" class="prm"/><line x1="2981" y1="2954" x2="2981" y2="2991" stroke="#c6c6ce" stroke-width="2"/><text class="lbs c" x="2914" y="2980">category</text><text class="lbs c" x="3012" y="2980">A</text><use href="#tri" x="3065" y="2972.5"/><use href="#po" x="3087" y="2972.5"/></g>
<g id="n-r3-c2"><rect x="2848" y="3004" width="241" height="43" rx="6" class="prm"/><line x1="2983" y1="3007" x2="2983" y2="3044" stroke="#c6c6ce" stroke-width="2"/><text class="lbs c" x="2916" y="3033">category</text><text class="lbs c" x="3014" y="3033">B</text><use href="#tri" x="3067" y="3025.5"/><use href="#po" x="3089" y="3025.5"/></g>
<g id="n-r3-t"><rect x="2846" y="3050" width="162" height="43" rx="6" class="prm"/><text class="lbs c" x="2903" y="3079">L-Miter</text><use href="#tri" x="2985" y="3071.5"/><use href="#po" x="3008" y="3071.5"/></g>
<g id="n-rule3">
<rect x="3144" y="2962" width="363" height="126" rx="7" class="cb"/><rect x="3339" y="2966" width="48" height="118" rx="6" class="bar"/>
<text class="lbs e" x="3331" y="2992">category_beam1</text><text class="lbs e" x="3331" y="3031">category_beam2</text><text class="lbs e" x="3331" y="3072">default_joint_type</text>
<text class="lbs" x="3397" y="3002">out</text><text class="lbs" x="3397" y="3062">joint_rule</text>
<use href="#pi" x="3144" y="2985"/><use href="#pi" x="3144" y="3024"/><use href="#pi" x="3144" y="3065"/><use href="#po" x="3507" y="2995"/><use href="#po" x="3507" y="3055"/>
</g>

<g id="n-r4-c1"><rect x="2840" y="3141" width="241" height="43" rx="6" class="prm"/><line x1="2975" y1="3144" x2="2975" y2="3181" stroke="#c6c6ce" stroke-width="2"/><text class="lbs c" x="2908" y="3170">category</text><text class="lbs c" x="3006" y="3170">A</text><use href="#tri" x="3059" y="3162.5"/><use href="#po" x="3081" y="3162.5"/></g>
<g id="n-r4-c2"><rect x="2842" y="3193" width="241" height="43" rx="6" class="prm"/><line x1="2977" y1="3196" x2="2977" y2="3233" stroke="#c6c6ce" stroke-width="2"/><text class="lbs c" x="2910" y="3222">category</text><text class="lbs c" x="3008" y="3222">C</text><use href="#tri" x="3061" y="3214.5"/><use href="#po" x="3083" y="3214.5"/></g>
<g id="n-r4-t"><rect x="2840" y="3245" width="162" height="43" rx="6" class="prm"/><text class="lbs c" x="2897" y="3274">L-Miter</text><use href="#tri" x="2979" y="3266.5"/><use href="#po" x="3002" y="3266.5"/></g>
<g id="n-rule4">
<rect x="3138" y="3152" width="363" height="126" rx="7" class="cb"/><rect x="3333" y="3156" width="48" height="118" rx="6" class="bar"/>
<text class="lbs e" x="3325" y="3182">category_beam1</text><text class="lbs e" x="3325" y="3221">category_beam2</text><text class="lbs e" x="3325" y="3262">default_joint_type</text>
<text class="lbs" x="3391" y="3192">out</text><text class="lbs" x="3391" y="3252">joint_rule</text>
<use href="#pi" x="3138" y="3175"/><use href="#pi" x="3138" y="3214"/><use href="#pi" x="3138" y="3255"/><use href="#po" x="3501" y="3185"/><use href="#po" x="3501" y="3245"/>
</g>

<g id="n-r5-c1"><rect x="2838" y="3315" width="241" height="43" rx="6" class="prm"/><line x1="2973" y1="3318" x2="2973" y2="3355" stroke="#c6c6ce" stroke-width="2"/><text class="lbs c" x="2906" y="3344">category</text><text class="lbs c" x="3004" y="3344">C</text><use href="#tri" x="3057" y="3336.5"/><use href="#po" x="3079" y="3336.5"/></g>
<g id="n-r5-c2"><rect x="2840" y="3367" width="241" height="43" rx="6" class="prm"/><line x1="2975" y1="3370" x2="2975" y2="3407" stroke="#c6c6ce" stroke-width="2"/><text class="lbs c" x="2908" y="3396">category</text><text class="lbs c" x="3006" y="3396">A</text><use href="#tri" x="3059" y="3388.5"/><use href="#po" x="3081" y="3388.5"/></g>
<g id="n-r5-t"><rect x="2846" y="3418" width="162" height="43" rx="6" class="prm"/><text class="lbs c" x="2903" y="3447">L-Miter</text><use href="#tri" x="2985" y="3439.5"/><use href="#po" x="3008" y="3439.5"/></g>
<g id="n-rule5">
<rect x="3137" y="3325" width="363" height="126" rx="7" class="cb"/><rect x="3332" y="3329" width="48" height="118" rx="6" class="bar"/>
<text class="lbs e" x="3324" y="3355">category_beam1</text><text class="lbs e" x="3324" y="3394">category_beam2</text><text class="lbs e" x="3324" y="3435">default_joint_type</text>
<text class="lbs" x="3390" y="3365">out</text><text class="lbs" x="3390" y="3425">joint_rule</text>
<use href="#pi" x="3137" y="3348"/><use href="#pi" x="3137" y="3387"/><use href="#pi" x="3137" y="3428"/><use href="#po" x="3500" y="3358"/><use href="#po" x="3500" y="3418"/>
</g>

<g id="n-data"><rect x="3806" y="2905" width="101" height="39" rx="6" class="prm"/><text class="lbs c" x="3856.5" y="2932">Data</text><use href="#pi" x="3806" y="2924.5"/><use href="#po" x="3907" y="2924.5"/></g>
<g id="n-pyrules">
<rect x="3966" y="2862" width="386" height="120" rx="7" class="cb"/>
<rect x="4131" y="2866" width="47" height="112" rx="6" class="bar"/>
<text class="bt" transform="translate(4164,2922) rotate(-90)">Python</text>
<text class="lbl e" x="4123" y="2930">joint_rule_defs</text>
<text class="lbl" x="4187" y="2902">out</text><text class="lbl" x="4187" y="2956">joint_rules_dict</text>
<use href="#pi" x="3966" y="2923"/><use href="#po" x="4352" y="2895"/><use href="#po" x="4352" y="2949"/>
</g>

<g id="n-tjoints">
<rect x="5729" y="1558" width="309" height="209" rx="7" class="cb"/>
<rect x="5815" y="1562" width="48" height="201" rx="6" class="bar"/>
<text class="bt" transform="translate(5848.5,1662.5) rotate(-90)">make T-joints</text>
<text class="lbl e" x="5806" y="1671">model</text>
<text class="lbl" x="5872" y="1590">out</text><text class="lbl" x="5872" y="1629">model</text><text class="lbl" x="5872" y="1670">trimmed_breps</text><text class="lbl" x="5872" y="1709">box_breps</text><text class="lbl" x="5872" y="1750">cutting_planes</text>
<use href="#pi" x="5729" y="1664"/>
<use href="#po" x="6038" y="1583"/><use href="#po" x="6038" y="1622"/><use href="#po" x="6038" y="1663"/><use href="#po" x="6038" y="1702"/><use href="#po" x="6038" y="1743"/>
</g>

<g id="n-geo"><rect x="6166" y="1655" width="98" height="39" rx="6" class="lt"/><text class="lbl c" x="6215" y="1683">Geo</text><use href="#pi" x="6166" y="1675"/><use href="#po" x="6264" y="1675"/></g>
<g id="n-brep"><rect x="6730" y="1655" width="97" height="39" rx="6" class="prm"/><text class="lbl c" x="6778.5" y="1683">Brep</text><use href="#pi" x="6730" y="1675"/><use href="#po" x="6827" y="1675"/></g>

<g id="n-pybake">
<rect x="6581" y="1470" width="283" height="129" rx="7" class="cg"/>
<rect x="6667" y="1474" width="46" height="121" rx="6" class="barg"/>
<text class="bt btg" transform="translate(6699,1534.5) rotate(-90)">Python</text>
<text class="lbl e dim" x="6660" y="1542">model</text>
<text class="lbl dim" x="6721" y="1502">out</text><text class="lbl dim" x="6721" y="1542">brep</text><text class="lbl dim" x="6721" y="1582">beam_frame</text>
<use href="#pi" x="6581" y="1535"/><use href="#po" x="6864" y="1495"/><use href="#po" x="6864" y="1535"/><use href="#po" x="6864" y="1575"/>
</g>

<g id="n-btnbake"><rect x="7000" y="1526" width="203" height="45" rx="6" class="prm"/><text class="lbl dim" x="7020" y="1556">Button</text><rect x="7109" y="1530" width="92" height="37" rx="4" class="btn"/><use href="#po" x="7203" y="1548.5"/></g>

<g id="n-new">
<rect x="7275" y="1405" width="335" height="168" rx="7" class="cg"/>
<rect x="7451" y="1409" width="48" height="160" rx="6" class="barg"/>
<text class="bt btg" transform="translate(7484,1489) rotate(-90)">_new</text>
<use href="#arr" x="7281" y="1429"/><use href="#arr" x="7281" y="1469"/>
<text class="lbl e dim" x="7440" y="1436">brep</text><text class="lbl e dim" x="7440" y="1476">beam_frame</text><text class="lbl e dim" x="7440" y="1517">map_size</text><text class="lbl e dim" x="7440" y="1556">bake</text>
<text class="lbl dim" x="7508" y="1442">out</text><text class="lbl dim" x="7508" y="1495">map_pln</text><text class="lbl dim" x="7508" y="1548">Model</text>
<use href="#pi" x="7275" y="1429"/><use href="#pi" x="7275" y="1469"/><use href="#pi" x="7275" y="1510"/><use href="#pi" x="7275" y="1549"/>
<use href="#po" x="7610" y="1435"/><use href="#po" x="7610" y="1488"/><use href="#po" x="7610" y="1541"/>
</g>

<g id="n-preview">
<path class="lt" d="M6976,1692 H7065 L7072,1699 L7065,1706 L7072,1713 L7065,1720 L7072,1727 L7065,1734 L7072,1741 L7065,1748 L7072,1755 L7065,1762 L7072,1769 L7065,1776 L7072,1783 L7065,1790 L7072,1797 L7065,1804 L7072,1811 L7065,1818 L7069,1823 H6976 Q6970,1823 6970,1817 V1698 Q6970,1692 6976,1692 Z"/>
<rect x="7016" y="1697" width="46" height="122" rx="6" class="bar"/>
<text class="bt" transform="translate(7048,1758) rotate(-90)">Preview</text>
<text class="lbl c" x="6995" y="1734">G</text><text class="lbl c" x="6995" y="1796">M</text>
<use href="#pi" x="6970" y="1726"/><use href="#pi" x="6970" y="1788"/>
</g>

<g id="n-swatch"><rect x="6669" y="1825" width="176" height="40" rx="6" class="prm"/><rect x="6764" y="1827" width="79" height="36" fill="#d4d4d4"/><line x1="6764" y1="1825" x2="6764" y2="1865" stroke="#333" stroke-width="2"/><rect x="6669" y="1825" width="176" height="40" rx="6" class="pnone"/><text class="lbl c" x="6716" y="1853">Swatch</text><use href="#po" x="6845" y="1845"/></g>
</svg>
